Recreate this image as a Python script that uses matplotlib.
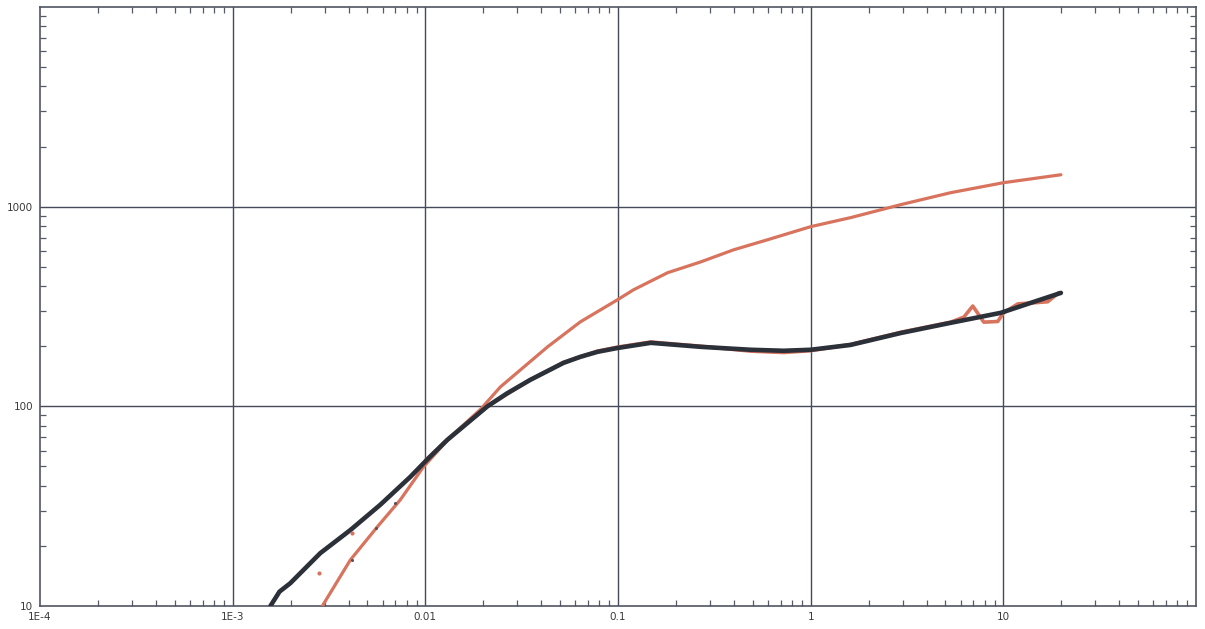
import matplotlib
matplotlib.use("Agg")
import matplotlib.pyplot as plt
from matplotlib.ticker import LogLocator, FixedLocator, FixedFormatter, NullFormatter

# ---- data ----
# model curve of the derivative (black)
black_x = [0.00157, 0.00175, 0.00199, 0.00285, 0.00408, 0.00583, 0.00835, 0.0101, 0.0130,
           0.0210, 0.0265, 0.0351, 0.0521, 0.0638, 0.0783, 0.0995, 0.148, 0.269, 0.488, 0.724, 1.0,
           1.61, 2.94, 5.33, 9.70, 19.9]
black_y = [10.0, 11.8, 13.0, 18.4, 24.0, 32.1, 44.3, 53.5, 67.9,
           100.0, 116.0, 135.8, 165.0, 177.0, 187.5, 196.0, 208.0, 198.6, 192.0, 189.8, 192.0,
           203.0, 233.0, 262.0, 294.0, 370.0]

# derivative data (red, noisy, mostly hidden under the black model)
deriv_x = [0.0101, 0.0130, 0.0210, 0.0351, 0.0521, 0.0783, 0.0995, 0.148, 0.269, 0.488,
           0.724, 1.0, 1.61, 2.94, 5.33, 6.24, 6.94, 7.92, 9.35, 10.03, 11.9, 14.4, 17.0, 19.4]
deriv_y = [54.0, 68.0, 100.0, 136.0, 166.0, 189.0, 198.0, 210.0, 200.0, 189.0,
           186.0, 190.0, 204.0, 235.0, 264.0, 280.0, 318.0, 264.0, 266.0, 294.0, 326.0, 330.0, 334.0, 371.0]

# pressure model (red, smooth)
press_x = [0.00292, 0.00408, 0.00563, 0.00741, 0.00977, 0.0135, 0.0193, 0.0245, 0.0431,
           0.0638, 0.0995, 0.1205, 0.181, 0.269, 0.398, 0.598, 1.0, 1.61, 2.94, 5.33, 10.0, 19.9]
press_y = [10.0, 17.0, 24.9, 34.0, 49.7, 70.3, 96.4, 125.0, 198.6,
           265.0, 342.0, 383.6, 467.0, 529.0, 608.0, 683.0, 794.0, 881.0, 1024.0, 1175.0, 1318.0, 1445.0]

# early scattered points
early_deriv_x = [0.00281, 0.00418]
early_deriv_y = [14.6, 23.2]
early_press_x = [0.00418, 0.00556, 0.00698]
early_press_y = [17.0, 24.6, 32.8]

x_tick_vals = [1e-4, 1e-3, 1e-2, 1e-1, 1, 10]
x_tick_labels = ["1E-4", "1E-3", "0.01", "0.1", "1", "10"]
y_tick_vals = [10, 100, 1000]
y_tick_labels = ["10", "100", "1000"]

RED = "#d8735e"
BLACK = "#2c3038"
GRID = "#454a58"

fig = plt.figure(figsize=(12.05, 6.29), dpi=100)
ax = fig.add_axes([40 / 1205, 1 - 606 / 629, 1156 / 1205, 599 / 629])
ax.set_xscale("log")
ax.set_yscale("log")
ax.set_xlim(1e-4, 100)
ax.set_ylim(10, 10000)

for v in [1e-3, 1e-2, 1e-1, 1, 10]:
    ax.axvline(v, color=GRID, lw=1.0, zorder=1)
for v in [100, 1000]:
    ax.axhline(v, color=GRID, lw=1.0, zorder=1)

ax.plot(press_x, press_y, color=RED, lw=2.3, zorder=3, solid_capstyle="round", solid_joinstyle="round")
ax.plot(deriv_x, deriv_y, color=RED, lw=2.6, zorder=3, solid_capstyle="round", solid_joinstyle="round")
ax.plot(black_x, black_y, color=BLACK, lw=3.3, zorder=4, solid_capstyle="round", solid_joinstyle="round")
ax.plot(early_deriv_x, early_deriv_y, "o", color=RED, ms=3, zorder=5, mew=0)
ax.plot(early_press_x, early_press_y, "o", color="#5a4f55", ms=2.2, zorder=5, mew=0)

for s in ax.spines.values():
    s.set_color("#505562")
    s.set_linewidth(1.2)

ax.xaxis.set_major_locator(FixedLocator(x_tick_vals))
ax.xaxis.set_major_formatter(FixedFormatter(x_tick_labels))
ax.yaxis.set_major_locator(FixedLocator(y_tick_vals))
ax.yaxis.set_major_formatter(FixedFormatter(y_tick_labels))
ax.xaxis.set_minor_locator(LogLocator(base=10, subs=range(2, 10), numticks=20))
ax.yaxis.set_minor_locator(LogLocator(base=10, subs=range(2, 10), numticks=20))
ax.xaxis.set_minor_formatter(NullFormatter())
ax.yaxis.set_minor_formatter(NullFormatter())
ax.tick_params(which="major", length=0, labelsize=7.5, labelcolor="#3a3a3a", pad=4)
ax.tick_params(which="minor", direction="in", length=4, width=0.9, color="#555a66",
               top=True, right=True, bottom=True, left=True)
ax.tick_params(axis="y", which="major", pad=5)

fig.savefig("out.png", dpi=100, facecolor="white")
